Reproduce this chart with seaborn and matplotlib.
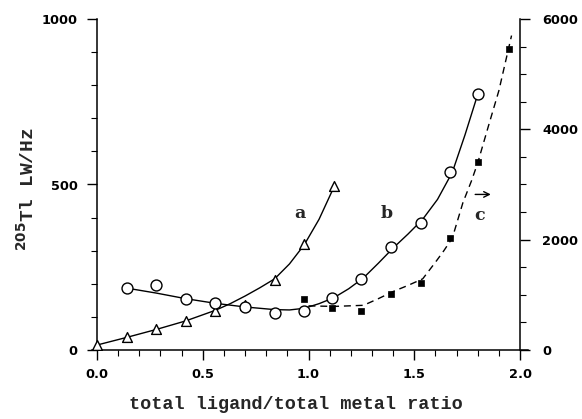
import matplotlib
matplotlib.use("Agg")
import matplotlib.pyplot as plt
import seaborn as sns
import pandas as pd
from matplotlib.ticker import MultipleLocator

# ---- data ----
# series a (open triangles, left axis)
tri_x = [0.00, 0.14, 0.28, 0.42, 0.56, 0.70, 0.84, 0.98, 1.12]
tri_y = [15, 40, 63, 88, 118, 136, 211, 320, 495]
# series b (open circles, left axis)
circ_x = [0.14, 0.28, 0.42, 0.56, 0.70, 0.84, 0.98, 1.11, 1.25, 1.39, 1.53, 1.67, 1.80]
circ_y = [187, 196, 155, 143, 130, 113, 118, 157, 216, 310, 383, 537, 772]
# series c (filled squares, right axis)
sq_x = [0.98, 1.11, 1.25, 1.39, 1.53, 1.67, 1.80, 1.95]
sq_y = [924, 757, 715, 1015, 1207, 2036, 3400, 5460]

# fitted curves
curve_a_x = [0.00, 0.14, 0.28, 0.42, 0.56, 0.63, 0.70, 0.77, 0.84, 0.91, 0.98, 1.05, 1.12]
curve_a_y = [15, 38, 62, 88, 120, 140, 163, 188, 215, 260, 318, 395, 492]
curve_b_x = [0.14, 0.28, 0.42, 0.56, 0.70, 0.84, 0.91, 0.98, 1.05, 1.12, 1.19, 1.26,
             1.33, 1.40, 1.47, 1.54, 1.61, 1.68, 1.74, 1.80]
curve_b_y = [187, 172, 155, 141, 130, 122, 121, 126, 140, 158, 185, 218,
             262, 308, 350, 395, 455, 537, 650, 772]
curve_c_x = [1.00, 1.12, 1.26, 1.33, 1.40, 1.47, 1.54, 1.60, 1.64, 1.68, 1.73,
             1.77, 1.80, 1.85, 1.90, 1.96]
curve_c_y = [800, 790, 810, 930, 1060, 1170, 1290, 1590, 1800, 2030, 2670,
             3060, 3390, 4050, 4700, 5700]

curve_labels = ["a", "b", "c"]
xticks = [0.0, 0.5, 1.0, 1.5, 2.0]
left_ticks = [0, 500, 1000]
right_ticks = [0, 2000, 4000, 6000]

sns.set_style("white")
plt.rcParams["font.family"] = ["DejaVu Sans"]
plt.rcParams["mathtext.fontset"] = "dejavusans"
plt.rcParams["mathtext.default"] = "bf"

W, H = 582, 419
fig = plt.figure(figsize=(W / 100, H / 100), dpi=100)
x0px, xs = 97.0, 211.5
xmin, xmax = -0.025, 2.04
left_px = x0px + xmin * xs
right_px = x0px + xmax * xs
bot_px, top_px = 350.0, 19.0
ax = fig.add_axes([left_px / W, (H - bot_px) / H, (right_px - left_px) / W, (bot_px - top_px) / H])
ax2 = ax.twinx()

df_a = pd.DataFrame({"x": curve_a_x, "y": curve_a_y})
df_b = pd.DataFrame({"x": curve_b_x, "y": curve_b_y})
df_c = pd.DataFrame({"x": curve_c_x, "y": curve_c_y})

sns.lineplot(data=df_a, x="x", y="y", ax=ax, color="black", lw=1.0, sort=False, estimator=None)
sns.lineplot(data=df_b, x="x", y="y", ax=ax, color="black", lw=1.0, sort=False, estimator=None)
sns.lineplot(data=df_c, x="x", y="y", ax=ax2, color="black", lw=1.0, sort=False,
             estimator=None, linestyle=(0, (5, 3.5)))

sns.scatterplot(x=tri_x, y=tri_y, ax=ax, marker="^", s=50, facecolor="white",
                edgecolor="black", linewidth=1.0, zorder=5)
sns.scatterplot(x=circ_x, y=circ_y, ax=ax, marker="o", s=62, facecolor="white",
                edgecolor="black", linewidth=1.0, zorder=5)
sns.scatterplot(x=sq_x, y=sq_y, ax=ax2, marker="s", s=22, color="black",
                edgecolor="black", linewidth=0.5, zorder=5)

ax.set_xlim(xmin, xmax)
ax.set_ylim(0, 1000)
ax2.set_ylim(0, 6000)

for s in ["top", "right"]:
    ax.spines[s].set_visible(False)
for s in ["top", "left", "bottom"]:
    ax2.spines[s].set_visible(False)
ax.spines["left"].set_position(("data", 0.0))
ax2.spines["right"].set_position(("data", 2.0))
for sp in [ax.spines["left"], ax.spines["bottom"], ax2.spines["right"]]:
    sp.set_linewidth(1.1)
    sp.set_color("black")

ax.set_xticks(xticks)
ax.set_xticklabels([f"{t:.1f}" for t in xticks])
ax.xaxis.set_minor_locator(MultipleLocator(0.1))
ax.set_yticks(left_ticks)
ax.yaxis.set_minor_locator(MultipleLocator(100))
ax2.set_yticks(right_ticks)
ax2.yaxis.set_minor_locator(MultipleLocator(500))

ax.tick_params(axis="both", which="major", direction="out", length=7, width=1.0,
               colors="black", bottom=True, left=True)
ax.tick_params(axis="both", which="minor", direction="out", length=4, width=0.8,
               colors="black", bottom=True, left=True)
ax2.tick_params(axis="y", which="major", direction="out", length=7, width=1.0,
                colors="black", pad=9, right=True)
ax2.tick_params(axis="y", which="minor", direction="out", length=4, width=0.8,
                colors="black", right=True)
for lab in ax.get_xticklabels() + ax.get_yticklabels() + ax2.get_yticklabels():
    lab.set_fontsize(9.3)
    lab.set_fontweight("bold")
ax.tick_params(axis="y", pad=7)
ax.tick_params(axis="x", pad=6)

ax.set_xlabel("")
ax.set_ylabel("")
ax2.set_ylabel("")

fig.text(296 / W, 1 - 404 / H, "total ligand/total metal ratio", ha="center", va="center",
         fontsize=13.3, fontweight="bold", family="Liberation Mono")
fig.text(27 / W, 1 - 189 / H, r"$^{205}$Tl LW/Hz", ha="center", va="center", rotation=90,
         fontsize=14, fontweight="bold", family="Liberation Mono")

label_pos = [(0.96, 412), (1.37, 412), (1.81, 406)]
for lab, (lx, ly) in zip(curve_labels, label_pos):
    ax.text(lx, ly, lab, ha="center", va="center", fontsize=12.5, fontweight="bold",
            family="DejaVu Serif")
ax.annotate("", xy=(1.875, 470), xytext=(1.775, 470),
            arrowprops=dict(arrowstyle="->", color="black", lw=1.0))

fig.savefig("out.png", dpi=100, facecolor="white")
